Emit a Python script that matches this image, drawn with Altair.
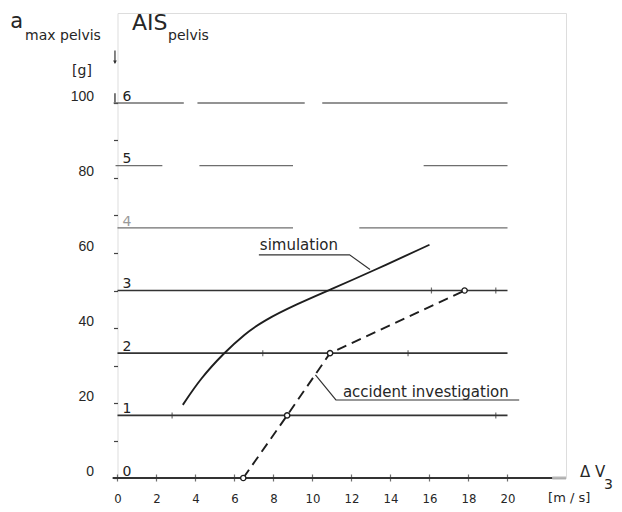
import altair as alt
import pandas as pd

# ---------------- data ----------------
x_tick_values = [0, 2, 4, 6, 8, 10, 12, 14, 16, 18, 20]
y_tick_values = [0, 10, 20, 30, 40, 50, 60, 70, 80, 90, 100]

ais_level = [0, 1, 2, 3, 4, 5, 6]
ais_g = [0, 16.7, 33.3, 50, 66.7, 83.3, 100]

# AIS reference lines as they appear (partly broken) in the scan
seg_level = [1, 2, 3, 4, 4, 5, 5, 5, 6, 6, 6]
seg_start = [0, 0, 0, 0, 12.4, -0.1, 4.2, 15.7, -0.2, 4.1, 10.5]
seg_end = [20, 20, 20, 9.0, 20, 2.3, 9.0, 20, 3.4, 9.6, 20]

# small drafting marks on the AIS lines
dm_v = [2.8, 19.4, 7.45, 14.9, 16.1, 19.4]
dm_level = [1, 1, 2, 2, 3, 3]

# simulation curve
sim_v = [3.35, 4.25, 5.45, 6.5, 7.5, 9.2, 10.9, 13.0, 16.0]
sim_g = [19.5, 26.5, 33.3, 38.3, 42.0, 46.4, 50.2, 55.0, 62.2]

# accident investigation (dashed, circles)
acc_v = [6.45, 8.7, 10.9, 17.8]
acc_g = [0, 16.7, 33.3, 50]

# ---------------- helpers ----------------
FONT = "DejaVu Sans"
INK = "#262626"

xs = alt.Scale(domain=[0, 23], nice=False, zero=False)
ys = alt.Scale(domain=[0, 124], nice=False, zero=False)

x_axis = alt.Axis(values=x_tick_values, title=None, grid=False, domain=False,
                  ticks=False, labelPadding=14, labelFontSize=13,
                  labelFont="Liberation Sans Narrow, DejaVu Sans Condensed, Liberation Sans",
                  labelColor=INK, labelFlush=False)
y_axis = alt.Axis(values=y_tick_values, title=None, grid=False, domain=False,
                  ticks=True, tickSize=4, tickColor="#444", tickWidth=1.2,
                  labelExpr="datum.value % 20 == 0 ? datum.label : ''",
                  labelPadding=20, labelFontSize=14, labelFont="Liberation Sans",
                  labelColor=INK, labelOffset=-7)


def X(f="v"):
    return alt.X(f"{f}:Q", scale=xs, axis=x_axis)


def Y(f="g"):
    return alt.Y(f"{f}:Q", scale=ys, axis=y_axis)


g_of = dict(zip(ais_level, ais_g))

# AIS lines
seg_df = pd.DataFrame({
    "v": seg_start, "v2": seg_end,
    "g": [g_of[l] for l in seg_level],
    "faint": [l >= 4 for l in seg_level],
})
seg_dark = alt.Chart(seg_df[~seg_df.faint]).mark_rule(color="#333", strokeWidth=1.6).encode(
    x=X(), x2="v2:Q", y=Y())
seg_light = alt.Chart(seg_df[seg_df.faint]).mark_rule(color="#555", strokeWidth=1.4, opacity=0.85).encode(
    x=X(), x2="v2:Q", y=Y())

# baseline (AIS 0 / velocity axis)
base_df = pd.DataFrame({"v": [-0.25, 22.3], "v2": [22.3, 23.0], "g": [0, 0], "k": ["a", "b"]})
base_dark = alt.Chart(base_df[base_df.k == "a"]).mark_rule(color="#333", strokeWidth=2.2).encode(
    x=X(), x2="v2:Q", y=Y())
base_fade = alt.Chart(base_df[base_df.k == "b"]).mark_rule(color="#999", strokeWidth=3, opacity=0.7).encode(
    x=X(), x2="v2:Q", y=Y())

# x ticks crossing the baseline
xt_df = pd.DataFrame({"v": x_tick_values, "g": [0] * len(x_tick_values)})
xt = alt.Chart(xt_df).mark_tick(orient="vertical", size=7, thickness=1.2, color="#333").encode(
    x=X(), y=Y())

# drafting marks
dm_df = pd.DataFrame({"v": dm_v, "g": [g_of[l] for l in dm_level]})
dm = alt.Chart(dm_df).mark_tick(orient="vertical", size=6, thickness=1.2, color="#333").encode(
    x=X(), y=Y())

# simulation
sim_df = pd.DataFrame({"v": sim_v, "g": sim_g})
sim = alt.Chart(sim_df).mark_line(color="#1e1e1e", strokeWidth=1.9, interpolate="basis").encode(
    x=X(), y=Y())

# accident investigation
acc_df = pd.DataFrame({"v": acc_v, "g": acc_g})
acc = alt.Chart(acc_df).mark_line(color="#1e1e1e", strokeWidth=1.9, strokeDash=[10, 6]).encode(
    x=X(), y=Y())
acc_pts = alt.Chart(acc_df).mark_point(shape="circle", size=28, filled=True, fill="white",
                                       stroke="#1e1e1e", strokeWidth=1.4, opacity=1).encode(
    x=X(), y=Y())

# leader lines with underlines
lead_df = pd.DataFrame({
    "id": ["s", "s", "s", "a", "a", "a"],
    "o": [0, 1, 2, 0, 1, 2],
    "v": [7.25, 11.9, 12.95, 10.15, 11.2, 20.6],
    "g": [59.5, 59.5, 55.6, 27.5, 20.8, 20.8],
})
lead = alt.Chart(lead_df).mark_line(color="#333", strokeWidth=1.2).encode(
    x=X(), y=Y(), detail="id:N", order="o:Q")

# annotation texts
ann_df = pd.DataFrame({
    "t": ["simulation", "accident investigation"],
    "v": [7.3, 11.56],
    "g": [60.7, 21.6],
})
ann = alt.Chart(ann_df).mark_text(align="left", baseline="alphabetic", font=FONT, fontSize=15,
                                  color=INK).encode(x=X(), y=Y(), text="t:N")

# AIS level labels
lab_df = pd.DataFrame({
    "t": [str(l) for l in ais_level],
    "v": [0.25] * len(ais_level),
    "g": [g + 0.6 for g in ais_g],
    "c": ["#222" if l != 4 else "#9a9a9a" for l in ais_level],
})
labs = alt.Chart(lab_df).mark_text(align="left", baseline="alphabetic", font=FONT, fontSize=14).encode(
    x=X(), y=Y(), text="t:N", color=alt.Color("c:N", scale=None))

# header / axis titles
head_df = pd.DataFrame({
    "t": ["a", "max pelvis", "AIS", "pelvis", "[g]", "Δ V", "3", "[m / s]"],
    "v": [-5.5, -4.74, 0.74, 2.59, -2.33, 23.72, 24.95, 22.08],
    "g": [120.0, 116.8, 119.5, 116.8, 107.5, 0.3, -2.9, -6.4],
    "fs": [21, 14, 22, 14, 14, 15, 14, 13],
})
head = alt.Chart(head_df).mark_text(align="left", baseline="alphabetic", font=FONT, color=INK).encode(
    x=X(), y=Y(), text="t:N", size=alt.Size("fs:Q", scale=None))

# small arrow below "AIS" and the bar at level 6
arrow_df = pd.DataFrame({"v": [-0.13], "g": [114.0], "g2": [110.6]})
arrow_shaft = alt.Chart(arrow_df).mark_rule(color="#333", strokeWidth=1.2).encode(
    x=X(), y=Y(), y2="g2:Q")
head_df2 = pd.DataFrame({"v": [-0.13], "g": [110.9]})
arrow_head = alt.Chart(head_df2).mark_point(shape="triangle-down", size=14, filled=True,
                                            color="#333", opacity=1).encode(x=X(), y=Y())
bar_df = pd.DataFrame({"v": [-0.13], "g": [100.2], "g2": [102.6]})
bar = alt.Chart(bar_df).mark_rule(color="#333", strokeWidth=1.3).encode(x=X(), y=Y(), y2="g2:Q")

chart = alt.layer(
    seg_light, seg_dark, base_dark, base_fade, xt, dm, sim, acc, acc_pts, lead,
    ann, labs, head, arrow_shaft, arrow_head, bar,
).properties(
    width=448.5, height=465,
    autosize=alt.AutoSizeParams(type="none"),
    padding={"left": 109.5, "top": 5, "right": 48, "bottom": 26},
).configure_view(stroke=None).configure(background="white")

chart.save("out.html", embed_options={"renderer": "svg", "actions": False})
